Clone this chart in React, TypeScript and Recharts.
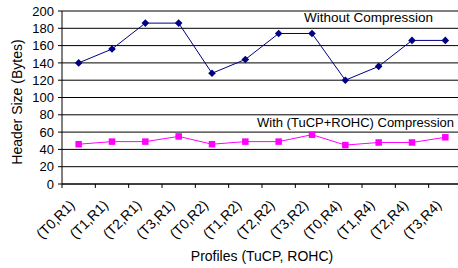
import { LineChart, Line, XAxis, YAxis, CartesianGrid, Label } from 'recharts';

const categories = [
  '(T0,R1)', '(T1,R1)', '(T2,R1)', '(T3,R1)',
  '(T0,R2)', '(T1,R2)', '(T2,R2)', '(T3,R2)',
  '(T0,R4)', '(T1,R4)', '(T2,R4)', '(T3,R4)',
];
const withoutCompression = [140, 156, 186, 186, 128, 144, 174, 174, 120, 136, 166, 166];
const withCompression = [46, 49, 49, 55, 46, 49, 49, 57, 45, 48, 48, 54];
const yTicks = [0, 20, 40, 60, 80, 100, 120, 140, 160, 180, 200];
const xBoundaries = categories.map((_, i) => i).concat(categories.length);

const FONT = 'Arial, "Liberation Sans", sans-serif';
const CHART_W = 464;
const CHART_H = 268;
const Y_AXIS_W = 62;
const MARGIN = { top: 11, right: 2, bottom: 0, left: 0 };
const PLOT_W = CHART_W - Y_AXIS_W - MARGIN.left - MARGIN.right;

const data = categories.map((name, i) => ({
  pos: i + 0.5,
  name,
  without: withoutCompression[i],
  with: withCompression[i],
}));

const Diamond = (props: any) => {
  const { cx, cy } = props;
  if (cx == null || cy == null) return null;
  const r = 3.8;
  return (
    <polygon
      points={`${cx},${cy - r} ${cx + r},${cy} ${cx},${cy + r} ${cx - r},${cy}`}
      fill="#000080"
      stroke="none"
    />
  );
};

const Square = (props: any) => {
  const { cx, cy } = props;
  if (cx == null || cy == null) return null;
  const s = 6.5;
  return <rect x={cx - s / 2} y={cy - s / 2} width={s} height={s} fill="#FF00FF" />;
};

// labels sit between the boundary ticks, so shift by half a band
const renderXTick = (props: any) => {
  const { x, y, payload } = props;
  const i = payload?.value;
  if (i == null || i >= categories.length) return <g />;
  const band = PLOT_W / categories.length;
  const ax = x + band / 2 - 3;
  const ay = y + 16;
  return (
    <text
      x={ax}
      y={ay}
      transform={`rotate(-45 ${ax} ${ay})`}
      textAnchor="end"
      fontSize={14}
      fontFamily={FONT}
      fill="#000"
    >
      {categories[i]}
    </text>
  );
};

export default function App() {
  return (
    <div style={{ position: 'absolute', left: 0, top: 0, width: 458, height: 268, overflow: 'hidden', background: '#fff' }}>
      <LineChart width={CHART_W} height={CHART_H} data={data} margin={MARGIN}>
        <CartesianGrid horizontal vertical={false} stroke="#000" strokeWidth={1} />
        <XAxis
          type="number"
          dataKey="pos"
          domain={[0, categories.length]}
          ticks={xBoundaries}
          interval={0}
          height={CHART_H - 184}
          tickSize={4}
          tickMargin={2}
          tick={renderXTick}
          axisLine={{ stroke: '#000' }}
          tickLine={{ stroke: '#000' }}
        >
          <Label
            content={() => (
              <text x={Y_AXIS_W + PLOT_W / 2} y={261} textAnchor="middle" fontSize={14} fontFamily={FONT} fill="#000">
                Profiles (TuCP, ROHC)
              </text>
            )}
          />
        </XAxis>
        <YAxis
          width={Y_AXIS_W}
          domain={[0, 200]}
          ticks={yTicks}
          interval={0}
          tickSize={4}
          tickMargin={4}
          tick={{ fill: '#000', fontSize: 13, fontFamily: FONT }}
          axisLine={{ stroke: '#000' }}
          tickLine={{ stroke: '#000' }}
        >
          <Label
            content={() => (
              <text
                x={17}
                y={102}
                transform="rotate(-90 17 102)"
                textAnchor="middle"
                dominantBaseline="central"
                fontSize={14}
                fontFamily={FONT}
                fill="#000"
              >
                Header Size (Bytes)
              </text>
            )}
          />
        </YAxis>
        <Line
          type="linear"
          dataKey="without"
          stroke="#000080"
          strokeWidth={1}
          dot={<Diamond />}
          activeDot={false}
          isAnimationActive={false}
        />
        <Line
          type="linear"
          dataKey="with"
          stroke="#FF00FF"
          strokeWidth={1}
          dot={<Square />}
          activeDot={false}
          isAnimationActive={false}
        />
      </LineChart>
      <div style={{ position: 'absolute', left: 304, top: 10, fontFamily: FONT, fontSize: 13.5, lineHeight: '16px', color: '#000', whiteSpace: 'nowrap' }}>
        Without Compression
      </div>
      <div style={{ position: 'absolute', left: 257, top: 115, fontFamily: FONT, fontSize: 13, lineHeight: '16px', color: '#000', whiteSpace: 'nowrap' }}>
        With (TuCP+ROHC) Compression
      </div>
    </div>
  );
}
